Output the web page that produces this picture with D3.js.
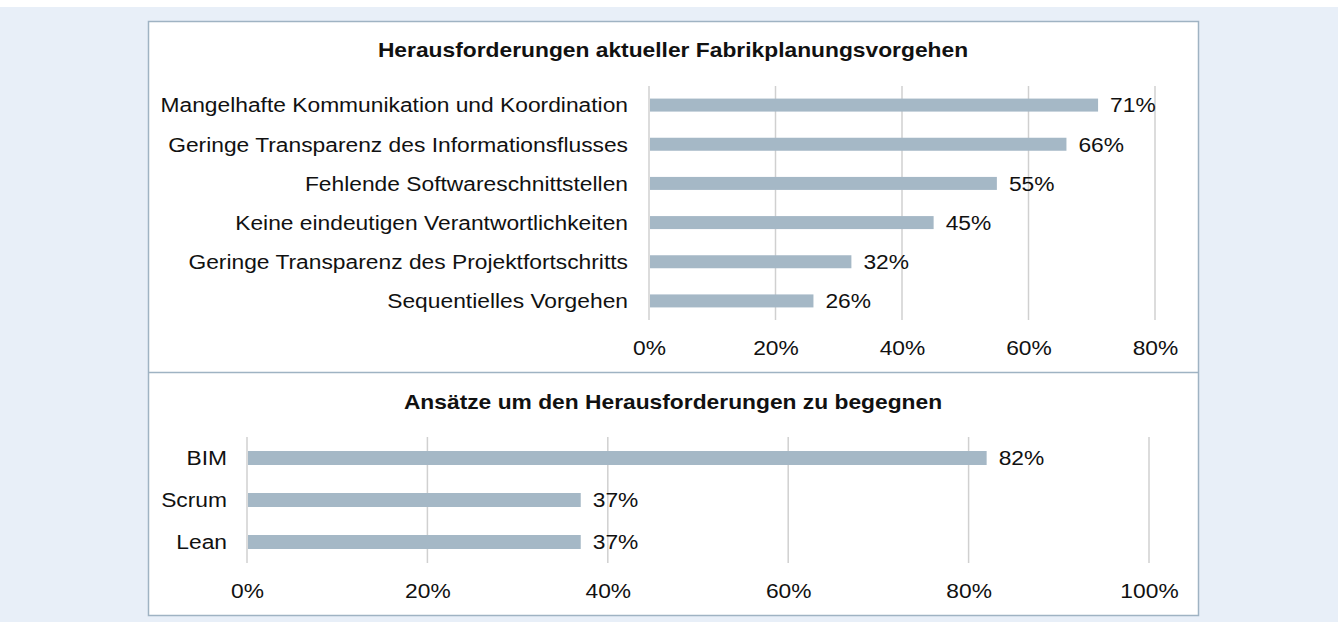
<!DOCTYPE html>
<html>
<head>
<meta charset="utf-8">
<script src="https://cdn.jsdelivr.net/npm/d3@7"></script>
<style>
  body { margin: 0; background: #fff; }
  svg { display: block; font-family: "Liberation Sans", Arial, sans-serif; }
  .tick line { display: none; }
  .domain { display: none; }
</style>
</head>
<body>
<svg width="1338" height="622"></svg>
<script>
// Daten oben: Herausforderungen
var topTitle = "Herausforderungen aktueller Fabrikplanungsvorgehen";
var topCats = ["Mangelhafte Kommunikation und Koordination",
    "Geringe Transparenz des Informationsflusses",
    "Fehlende Softwareschnittstellen",
    "Keine eindeutigen Verantwortlichkeiten",
    "Geringe Transparenz des Projektfortschritts",
    "Sequentielles Vorgehen"];
var topValues = [71, 66, 55, 45, 32, 26];
var topTicks = [0, 20, 40, 60, 80];

// Daten unten: Ansaetze
var botTitle = "Ansätze um den Herausforderungen zu begegnen";
var botCats = ["BIM", "Scrum", "Lean"];
var botValues = [82, 37, 37];
var botTicks = [0, 20, 40, 60, 80, 100];

var sx = 1.086,  // schrift im original ist etwas breiter gezogen
    sxTitle = 1.14;

var svg = d3.select("svg");

// hintergrund
svg.append("rect").attr("x", 0).attr("y", 7).attr("width", 1338).attr("height", 615)
    .attr("fill", "#e8eff8");
svg.append("rect").attr("x", 148.5).attr("y", 21.5).attr("width", 1050).attr("height", 594)
    .attr("fill", "#fff").attr("stroke", "#9fb3c3").attr("stroke-width", 1.5);
svg.append("line").attr("x1", 148.5).attr("x2", 1198.5).attr("y1", 372.5).attr("y2", 372.5)
    .attr("stroke", "#9fb3c3").attr("stroke-width", 1.5);

function place(x, y, s) {
    return "translate(" + x + "," + y + ") scale(" + (s || sx) + ",1)";
}

function drawChart(cfg) {
    var x = d3.scaleLinear().domain([0, cfg.max]).range([cfg.x0, cfg.x1]);
    var y = d3.scaleBand().domain(cfg.cats).range([cfg.y0, cfg.y1]).paddingInner(cfg.pad).paddingOuter(cfg.pad / 2);

    var g = svg.append("g");

    g.append("text")
        .attr("transform", place(673, cfg.titleY, sxTitle))
        .attr("text-anchor", "middle")
        .attr("font-weight", "bold")
        .attr("font-size", "20px")
        .attr("fill", "#111")
        .text(cfg.title);

    // gitterlinien
    g.selectAll(".grid")
        .data(cfg.ticks)
        .enter().append("line")
        .attr("x1", function (d) { return x(d); })
        .attr("x2", function (d) { return x(d); })
        .attr("y1", cfg.gy0)
        .attr("y2", cfg.gy1)
        .attr("stroke", "#d0d0d0")
        .attr("stroke-width", 1.5);

    g.selectAll(".bar")
        .data(cfg.values)
        .enter().append("rect")
        .attr("x", x(0) + 1)
        .attr("y", function (d, i) { return y(cfg.cats[i]) + (y.bandwidth() - cfg.barH) / 2; })
        .attr("width", function (d) { return x(d) - x(0) - 1; })
        .attr("height", cfg.barH)
        .attr("fill", "#a5b8c6");

    g.selectAll(".val")
        .data(cfg.values)
        .enter().append("text")
        .attr("transform", function (d, i) {
            return place(x(d) + 12, y(cfg.cats[i]) + y.bandwidth() / 2);
        })
        .attr("dy", "0.35em")
        .attr("font-size", "21px")
        .attr("fill", "#111")
        .text(function (d) { return d + "%"; });

    g.selectAll(".cat")
        .data(cfg.cats)
        .enter().append("text")
        .attr("transform", function (d) { return place(cfg.labelX, y(d) + y.bandwidth() / 2); })
        .attr("dy", "0.35em")
        .attr("text-anchor", "end")
        .attr("font-size", "21px")
        .attr("fill", "#111")
        .text(function (d) { return d; });

    g.append("g")
        .attr("transform", "translate(0," + cfg.axisY + ")")
        .call(d3.axisBottom(x).tickValues(cfg.ticks).tickSize(0).tickPadding(0)
            .tickFormat(function (d) { return d + "%"; }))
        .selectAll("text")
        .attr("transform", "scale(" + sx + ",1)")
        .attr("font-size", "21px")
        .attr("fill", "#111")
        .attr("font-family", "Liberation Sans, Arial, sans-serif");
}

drawChart({
    title: topTitle, cats: topCats, values: topValues, ticks: topTicks, max: 80,
    x0: 649, x1: 1155, y0: 85.5, y1: 320.5, pad: 0.66, barH: 13,
    gy0: 86, gy1: 320, titleY: 57, labelX: 628, axisY: 340
});

drawChart({
    title: botTitle, cats: botCats, values: botValues, ticks: botTicks, max: 100,
    x0: 247, x1: 1149, y0: 437, y1: 563, pad: 0.66, barH: 14,
    gy0: 437, gy1: 563, titleY: 409, labelX: 227, axisY: 583.5
});
</script>
</body>
</html>
